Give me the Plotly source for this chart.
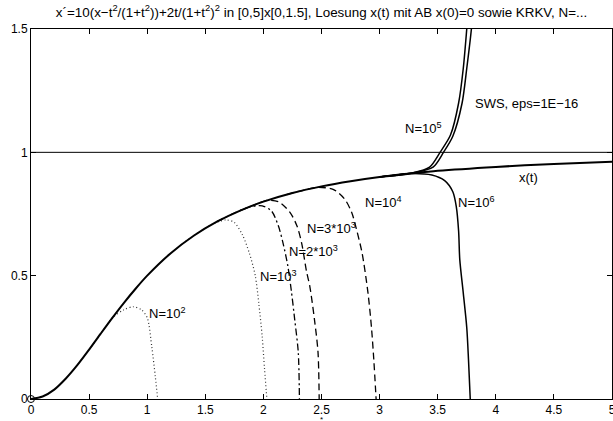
import plotly.graph_objects as go

# exact solution x(t), sampled
t_exact = [0, 0.1, 0.2, 0.3, 0.4, 0.5, 0.6, 0.7, 0.8, 0.9, 1.0, 1.2, 1.4, 1.6, 1.8,
           2.0, 2.25, 2.5, 2.75, 3.0, 3.25, 3.5, 4.0, 4.5, 5.0]
x_exact = [0, 0.01, 0.038, 0.083, 0.138, 0.2, 0.265, 0.329, 0.39, 0.447, 0.5, 0.59,
           0.662, 0.719, 0.764, 0.8, 0.835, 0.862, 0.883, 0.9, 0.913, 0.925, 0.941,
           0.953, 0.962]

# KRKV solutions for several step counts N
t_n1e2 = [0.5, 0.6, 0.7, 0.8, 0.88, 0.95, 1.0, 1.04, 1.07, 1.09]
x_n1e2 = [0.2, 0.265, 0.329, 0.362, 0.374, 0.362, 0.33, 0.21, 0.09, 0.0]

t_n1e3 = [1.3, 1.45, 1.6, 1.68, 1.75, 1.82, 1.88, 1.93, 1.96, 1.99, 2.01, 2.03]
x_n1e3 = [0.628, 0.678, 0.717, 0.726, 0.716, 0.665, 0.59, 0.5, 0.39, 0.25, 0.12, 0.0]

t_n2e3 = [1.6, 1.75, 1.88, 1.99, 2.07, 2.13, 2.17, 2.21, 2.24, 2.27, 2.30, 2.31]
x_n2e3 = [0.719, 0.754, 0.778, 0.783, 0.762, 0.70, 0.63, 0.54, 0.44, 0.32, 0.19, 0.0]

t_n3e3 = [1.8, 1.93, 2.03, 2.13, 2.23, 2.29, 2.33, 2.37, 2.40, 2.44, 2.47, 2.48]
x_n3e3 = [0.764, 0.788, 0.805, 0.80, 0.756, 0.70, 0.63, 0.52, 0.455, 0.32, 0.19, 0.0]

t_n1e4 = [2.2, 2.35, 2.46, 2.6, 2.7, 2.76, 2.80, 2.85, 2.90, 2.93, 2.95, 2.97]
x_n1e4 = [0.829, 0.847, 0.858, 0.85, 0.81, 0.756, 0.69, 0.59, 0.43, 0.29, 0.16, 0.0]

t_n1e6 = [3.0, 3.25, 3.45, 3.56, 3.63, 3.66, 3.68, 3.69, 3.72, 3.75, 3.765, 3.78]
x_n1e6 = [0.9, 0.914, 0.908, 0.885, 0.84, 0.78, 0.68, 0.565, 0.43, 0.29, 0.16, 0.0]

t_n1e5 = [3.0, 3.29, 3.43, 3.52, 3.61, 3.68, 3.72, 3.75, 3.77]
x_n1e5 = [0.9, 0.917, 0.94, 1.0, 1.07, 1.2, 1.34, 1.5, 1.62]

t_sws = [3.0, 3.29, 3.46, 3.55, 3.63, 3.71, 3.75, 3.79, 3.81]
x_sws = [0.9, 0.917, 0.94, 1.0, 1.065, 1.2, 1.34, 1.5, 1.62]

# reference level x = 1
t_ref = [0, 5]
x_ref = [1, 1]

# curve labels: (t, x, text)
lbl_t = [1.0, 1.95, 2.2, 2.36, 2.86, 3.66, 4.18, 3.2, 3.8]
lbl_x = [0.35, 0.50, 0.60, 0.695, 0.80, 0.80, 0.90, 1.10, 1.20]
lbl_s = ["N=10<sup>2</sup>", "N=10<sup>3</sup>", "N=2*10<sup>3</sup>", "N=3*10<sup>3</sup>",
         "N=10<sup>4</sup>", "N=10<sup>6</sup>", "x(t)", "N=10<sup>5</sup>",
         "SWS, eps=1E\u221216"]

xticks = [0, 0.5, 1, 1.5, 2, 2.5, 3, 3.5, 4, 4.5, 5]
yticks = [0, 0.5, 1, 1.5]

FONT = "Liberation Sans, Arial, Helvetica, sans-serif"

fig = go.Figure()

def curve(t, x, dash="solid", width=1.3, color="black"):
    fig.add_trace(go.Scatter(x=t, y=x, mode="lines", showlegend=False,
                             line=dict(color=color, width=width, dash=dash,
                                       shape="spline", smoothing=0.8)))

curve(t_ref, x_ref, width=1)
curve(t_n1e2, x_n1e2, dash="1px,2.5px", width=1.2, color="#333")
curve(t_n1e3, x_n1e3, dash="1px,2.5px", width=1.2, color="#333")
curve(t_n2e3, x_n2e3, dash="7px,3px,2px,3px", width=1.3)
curve(t_n3e3, x_n3e3, dash="7px,4px", width=1.3)
curve(t_n1e4, x_n1e4, dash="7px,4px", width=1.3)
curve(t_n1e6, x_n1e6, width=1.5)
curve(t_n1e5, x_n1e5, width=1.5)
curve(t_sws, x_sws, width=1.5)
curve(t_exact, x_exact, width=2)

# initial value marker
fig.add_trace(go.Scatter(x=[0], y=[0], mode="markers", showlegend=False, cliponaxis=False,
                         marker=dict(symbol="circle-open", size=7, color="black",
                                     line=dict(color="black", width=1))))

for tx, xv, s in zip(lbl_t, lbl_x, lbl_s):
    fig.add_annotation(x=tx, y=xv, text=s, showarrow=False, xanchor="left",
                       yanchor="middle", font=dict(size=13, color="black", family=FONT))

fig.add_annotation(x=2.5, xref="x", y=-0.038, yref="paper", text="*", showarrow=False,
                   xanchor="center", yanchor="top", font=dict(size=8, color="black", family=FONT))

axis_common = dict(showline=True, linecolor="black", linewidth=1, mirror="ticks",
                   ticks="inside", ticklen=5, tickcolor="black", tickwidth=1,
                   showgrid=False, zeroline=False, ticklabeloverflow="allow",
                   automargin=False,
                   tickfont=dict(size=12, color="black", family=FONT))

fig.update_xaxes(range=[0, 5], tickvals=xticks, ticktext=[f"{v:g}" for v in xticks],
                 **axis_common)
fig.update_yaxes(range=[0, 1.5], tickvals=yticks, ticktext=[f"{v:g}" for v in yticks],
                 **axis_common)

fig.update_layout(
    width=613, height=421,
    margin=dict(l=31, r=1, t=29, b=22),
    plot_bgcolor="white", paper_bgcolor="white",
    title=dict(text="x\u00b4=10(x\u2212t<sup>2</sup>/(1+t<sup>2</sup>))+2t/(1+t<sup>2</sup>)<sup>2</sup>"
                    " in [0,5]x[0,1.5], Loesung x(t) mit AB x(0)=0 sowie KRKV, N=...",
               x=0.5, xref="paper", xanchor="center", y=1 - 12 / 421, yref="container",
               yanchor="middle", font=dict(size=13.4, color="black", family=FONT)),
)

fig.write_html("out.html")
